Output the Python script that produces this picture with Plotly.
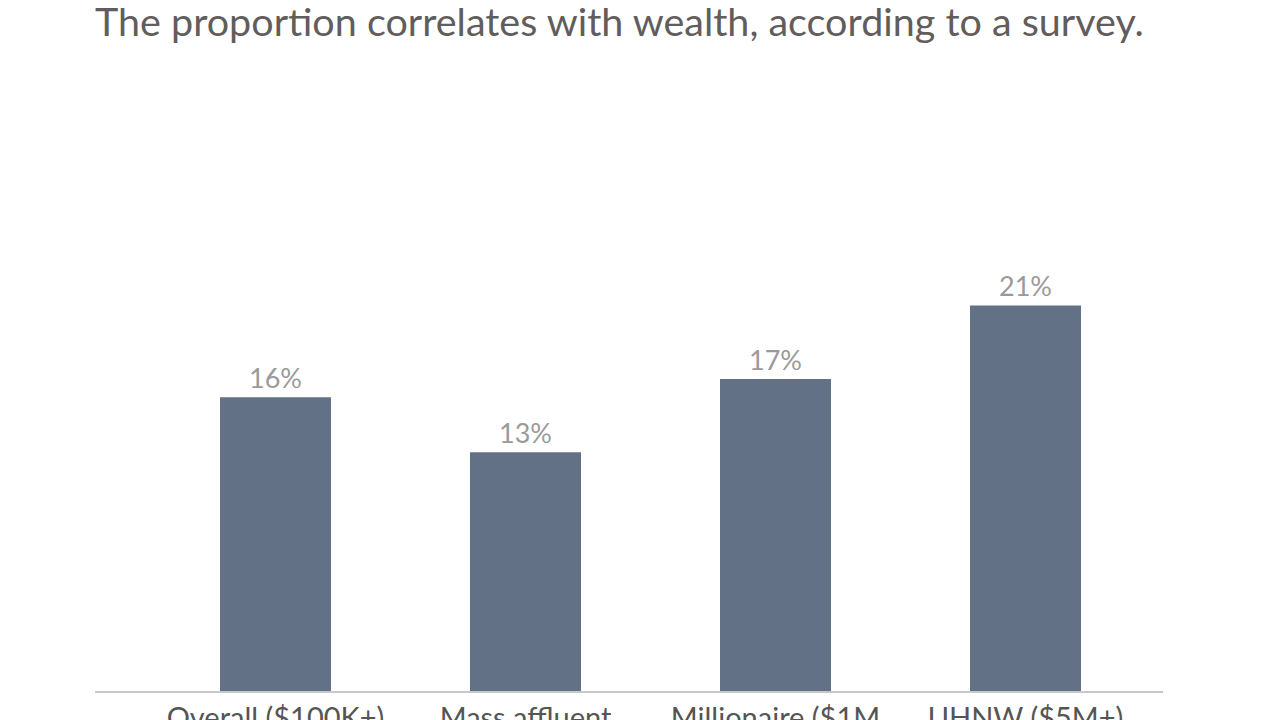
import plotly.graph_objects as go

categories = ["Overall ($100K+)", "Mass affluent<br>($100K–$1M)", "Millionaire ($1M<br>–$5M)", "UHNW ($5M+)"]
values = [16, 13, 17, 21]
value_labels = ["16%", "13%", "17%", "21%"]
title_text = "The proportion correlates with wealth, according to a survey."

fig = go.Figure(go.Bar(
    x=list(range(len(categories))),
    y=values,
    text=value_labels,
    textposition="outside",
    textfont=dict(family="Lato", size=27, color="#9a9a9a"),
    marker=dict(color="#627186", line=dict(width=0)),
    width=0.444,
    cliponaxis=False,
))

H = 800
axis_y = 683
fig.update_layout(
    width=1280, height=H,
    margin=dict(l=87, r=125, t=axis_y - 459, b=H - axis_y),
    paper_bgcolor="white", plot_bgcolor="white",
    showlegend=False,
    font=dict(family="Lato"),
    title=dict(text=title_text, xref="container", yref="container",
               x=87 / 1280, xanchor="left", y=1 - 14 / H, yanchor="middle",
               font=dict(family="Lato", size=39.5, color="#625d5d")),
    xaxis=dict(range=[-0.722, 3.55], tickmode="array", tickvals=list(range(len(categories))),
               ticktext=categories, showgrid=False, zeroline=False,
               showline=True, linecolor="#c8c8c8", linewidth=1.5, ticks="",
               tickfont=dict(family="Lato", size=29, color="#555555")),
    yaxis=dict(range=[0, 25], visible=False, showgrid=False, zeroline=False),
)

fig.write_html("out.html")
